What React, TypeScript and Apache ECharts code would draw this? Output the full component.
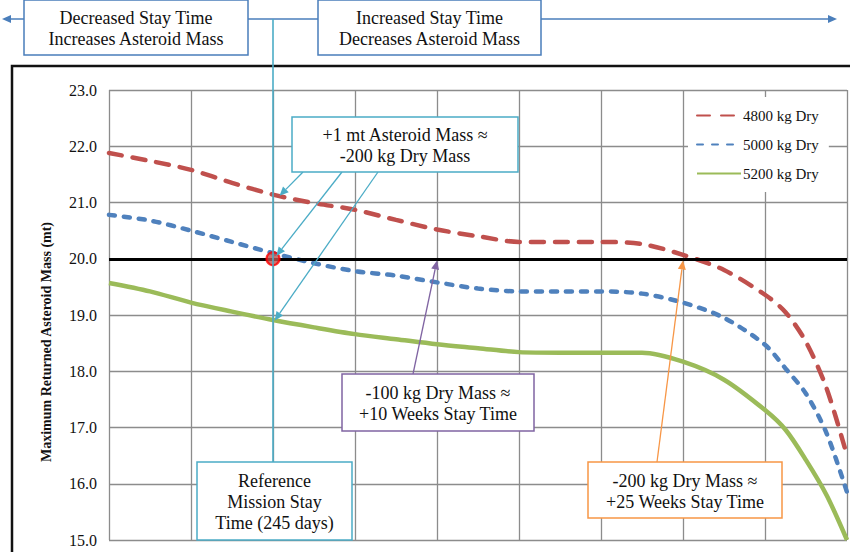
import React, { useEffect, useRef } from "react";
import * as echarts from "echarts";

// Stay time (weeks) and maximum returned asteroid mass (mt)
const weeks = [25, 27.5, 30, 32.5, 35, 37.5, 40, 42.5, 45, 47.5, 50, 52.5, 55, 57.5, 60, 62.5, 65, 66.25, 67.5, 68.75, 70];
const dry4800 = [21.88, 21.74, 21.58, 21.35, 21.14, 20.99, 20.87, 20.69, 20.52, 20.4, 20.3, 20.3, 20.3, 20.26, 20.07, 19.8, 19.36, 19.05, 18.52, 17.7, 16.5];
const dry5000 = [20.78, 20.68, 20.5, 20.3, 20.1, 19.92, 19.78, 19.7, 19.58, 19.47, 19.42, 19.42, 19.42, 19.38, 19.22, 18.95, 18.47, 18.05, 17.6, 16.9, 15.85];
const dry5200 = [19.57, 19.42, 19.22, 19.06, 18.91, 18.78, 18.66, 18.57, 18.48, 18.41, 18.34, 18.33, 18.33, 18.33, 18.17, 17.85, 17.31, 16.96, 16.42, 15.8, 15.0];
const seriesNames = ["4800 kg Dry", "5000 kg Dry", "5200 kg Dry"];
const referencePoint = [35, 20];
const thresholdMass = 20;
const yTicks = { min: 15, max: 23, interval: 1 };
const xTicks = { min: 25, max: 70, interval: 5 };

const FONT = "'Liberation Serif', 'Times New Roman', serif";
const CYAN = "#4BACC6";
const BLUE = "#4A7EBB";
const PURPLE = "#8064A2";
const ORANGE = "#F79646";

function pairs(vals: number[]) {
  return weeks.map((w, i) => [w, vals[i]]);
}

function arrow(x1: number, y1: number, x2: number, y2: number, color: string, width = 1.3, head = 9, half = 4) {
  const dx = x2 - x1;
  const dy = y2 - y1;
  const L = Math.hypot(dx, dy);
  const ux = dx / L;
  const uy = dy / L;
  const bx = x2 - ux * head;
  const by = y2 - uy * head;
  const nx = -uy;
  const ny = ux;
  return [
    { type: "line", z: 100, shape: { x1, y1, x2: bx, y2: by }, style: { stroke: color, lineWidth: width } },
    {
      type: "polygon",
      z: 100,
      shape: { points: [[x2, y2], [bx + nx * half, by + ny * half], [bx - nx * half, by - ny * half]] },
      style: { fill: color },
    },
  ];
}

function box(x: number, y: number, w: number, h: number, color: string, text: string) {
  return [
    { type: "rect", z: 100, shape: { x, y, width: w, height: h }, style: { fill: "#fff", stroke: color, lineWidth: 1.5 } },
    {
      type: "text",
      z: 101,
      x: x + w / 2,
      y: y + h / 2 + 1,
      style: { text, align: "center", verticalAlign: "middle", font: `18px ${FONT}`, lineHeight: 21, fill: "#111" },
    },
  ];
}

export default function App() {
  const ref = useRef<HTMLDivElement>(null);
  useEffect(() => {
    const chart = echarts.init(ref.current!, null, { renderer: "svg" });
    const lineCommon = { type: "line", symbol: "none", smooth: 0.3 };
    chart.setOption({
      animation: false,
      backgroundColor: "#fff",
      grid: { left: 109, top: 90, right: 3, bottom: 12, containLabel: false },
      legend: {
        data: seriesNames,
        orient: "vertical",
        left: 688,
        top: 97,
        padding: [11, 10, 11, 8],
        itemWidth: 44,
        itemHeight: 14,
        itemGap: 14,
        backgroundColor: "#fff",
        itemStyle: { opacity: 0 },
        textStyle: { fontFamily: FONT, fontSize: 15, color: "#111", padding: [0, 0, 0, -3] },
        z: 50,
      },
      xAxis: {
        type: "value",
        min: xTicks.min,
        max: xTicks.max,
        interval: xTicks.interval,
        axisLabel: { show: false },
        axisTick: { show: false },
        axisLine: { show: false },
        splitLine: { show: true, lineStyle: { color: "#8c8c8c", width: 1.3 } },
      },
      yAxis: {
        type: "value",
        min: yTicks.min,
        max: yTicks.max,
        interval: yTicks.interval,
        axisLabel: {
          formatter: (v: number) => v.toFixed(1),
          fontFamily: FONT,
          fontSize: 16,
          color: "#111",
          margin: 12,
        },
        axisTick: { show: false },
        axisLine: { show: false },
        splitLine: { show: true, lineStyle: { color: "#8c8c8c", width: 1.3 } },
      },
      series: [
        {
          ...lineCommon,
          name: seriesNames[0],
          data: pairs(dry4800),
          color: "#C0504D",
          lineStyle: { color: "#C0504D", width: 4.5, type: [13, 11], cap: "round" },
        },
        {
          ...lineCommon,
          name: seriesNames[1],
          data: pairs(dry5000),
          color: "#4F81BD",
          lineStyle: { color: "#4F81BD", width: 4.5, type: [6, 9], cap: "round" },
        },
        {
          ...lineCommon,
          name: seriesNames[2],
          data: pairs(dry5200),
          color: "#9BBB59",
          lineStyle: { color: "#9BBB59", width: 4.5, type: "solid" },
        },
        {
          name: "Reference",
          type: "scatter",
          z: 5,
          data: [referencePoint],
          symbolSize: 13,
          itemStyle: { color: "#C0504D", borderColor: "#FF0000", borderWidth: 2.2 },
          markLine: {
            silent: true,
            symbol: ["none", "none"],
            label: { show: false },
            lineStyle: { color: "#000", width: 3, type: "solid" },
            data: [{ yAxis: thresholdMass }],
          },
        },
      ],
    });

    const p = (x: number, y: number) => chart.convertToPixel({ gridIndex: 0 }, [x, y]) as number[];
    const ref35 = p(referencePoint[0], referencePoint[1]);
    const a1 = p(35.4, 21.12);
    const a2 = p(35.2, 20.05);
    const a3 = p(35.1, 18.9);
    const a4 = p(45, 19.97);
    const a5 = p(60, 19.97);
    const rx = ref35[0];

    const graphic: any[] = [
      { type: "rect", z: 100, shape: { x: 12, y: 66, width: 860, height: 520 }, style: { fill: "none", stroke: "#111", lineWidth: 2.5 } },
      ...arrow(24, 19, 2, 19, BLUE, 1.5, 9, 4),
      { type: "line", z: 100, shape: { x1: 248, y1: 19, x2: 318, y2: 19 }, style: { stroke: BLUE, lineWidth: 1.5 } },
      ...arrow(541, 19, 837, 19, BLUE, 1.5, 9, 4),
      { type: "line", z: 100, shape: { x1: rx, y1: 19, x2: rx, y2: 462 }, style: { stroke: CYAN, lineWidth: 1.6 } },
      ...box(24, 0, 224, 55, BLUE, "Decreased Stay Time\nIncreases Asteroid Mass"),
      ...box(318, 0, 223, 55, BLUE, "Increased Stay Time\nDecreases Asteroid Mass"),
      ...arrow(303, 172, a1[0], a1[1], CYAN),
      ...arrow(342, 172, a2[0], a2[1], CYAN),
      ...arrow(378, 172, a3[0], a3[1], CYAN),
      ...box(292, 117, 226, 55, CYAN, "+1 mt Asteroid Mass \u2248\n-200 kg Dry Mass"),
      ...arrow(413, 374, a4[0], a4[1], PURPLE),
      ...box(342, 374, 192, 57, PURPLE, "-100 kg Dry Mass \u2248\n+10 Weeks Stay Time"),
      ...arrow(657, 462, a5[0], a5[1], ORANGE),
      ...box(588, 462, 194, 56, ORANGE, "-200 kg Dry Mass \u2248\n+25 Weeks Stay Time"),
      ...box(197, 462, 155, 78, CYAN, "Reference\nMission Stay\nTime (245 days)"),
      {
        type: "text",
        z: 100,
        x: 46,
        y: 342,
        rotation: Math.PI / 2,
        style: {
          text: "Maximum Returned Asteroid Mass (mt)",
          align: "center",
          verticalAlign: "middle",
          font: `bold 14px ${FONT}`,
          fill: "#111",
        },
      },
    ];
    chart.setOption({ graphic });
    return () => chart.dispose();
  }, []);
  return <div ref={ref} style={{ position: "fixed", left: 0, top: 0, width: 850, height: 552, background: "#fff" }} />;
}
